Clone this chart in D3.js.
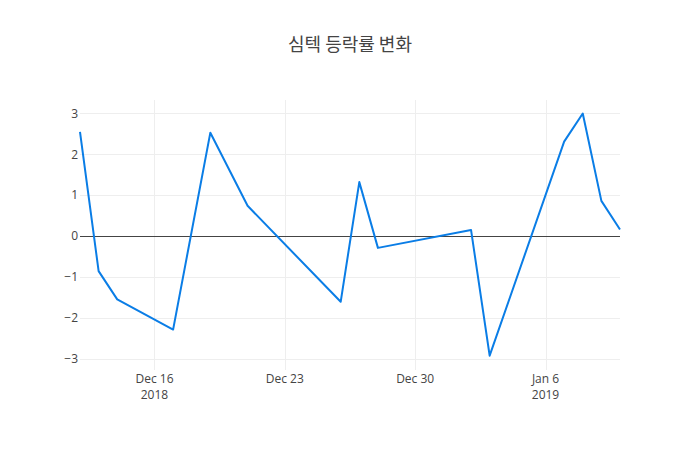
<!DOCTYPE html>
<html>
<head>
<meta charset="utf-8">
<script src="https://cdn.jsdelivr.net/npm/d3@7"></script>
<style>
  html, body { margin: 0; padding: 0; background: #fff; }
  svg { display: block; font-family: "Open Sans", "Noto Sans CJK KR", sans-serif; }
</style>
</head>
<body>
<svg id="chart" width="700" height="450"></svg>
<script>
const title = "심텍 등락률 변화";
const dates = ["2018-12-12","2018-12-13","2018-12-14","2018-12-17","2018-12-19","2018-12-21",
               "2018-12-26","2018-12-27","2018-12-28","2019-01-02","2019-01-03","2019-01-07",
               "2019-01-08","2019-01-09","2019-01-10"];
const changes = [2.55, -0.86, -1.55, -2.29, 2.53, 0.74, -1.61, 1.32, -0.29, 0.15, -2.93, 2.31, 3.0, 0.86, 0.16];
const yTicks = [-3, -2, -1, 0, 1, 2, 3];
const xTicks = ["2018-12-16", "2018-12-23", "2018-12-30", "2019-01-06"];
const xTickLabels = [["Dec 16", "2018"], ["Dec 23"], ["Dec 30"], ["Jan 6", "2019"]];

const W = 700, H = 450, m = {l: 80, r: 80, t: 100, b: 80};
const parse = d3.utcParse("%Y-%m-%d");
const data = dates.map((d, i) => ({date: parse(d), v: changes[i]}));

const svg = d3.select("#chart");
const x = d3.scaleUtc().domain(d3.extent(data, d => d.date)).range([m.l, W - m.r]);
const y = d3.scaleLinear().domain([-3.28, 3.33]).range([H - m.b, m.t]);
const crisp = v => Math.round(v) + 0.5;

// grid
svg.append("g").selectAll("line").data(xTicks).join("line")
  .attr("x1", d => crisp(x(parse(d)))).attr("x2", d => crisp(x(parse(d))))
  .attr("y1", m.t).attr("y2", H - m.b)
  .attr("stroke", "#eee").attr("stroke-width", 1);
svg.append("g").selectAll("line").data(yTicks.filter(t => t !== 0)).join("line")
  .attr("x1", m.l).attr("x2", W - m.r)
  .attr("y1", d => crisp(y(d))).attr("y2", d => crisp(y(d)))
  .attr("stroke", "#eee").attr("stroke-width", 1);

// zero line
svg.append("line")
  .attr("x1", m.l).attr("x2", W - m.r)
  .attr("y1", crisp(y(0))).attr("y2", crisp(y(0)))
  .attr("stroke", "#444").attr("stroke-width", 1);

// line
svg.append("path").datum(data)
  .attr("fill", "none").attr("stroke", "#0a7de6").attr("stroke-width", 2)
  .attr("stroke-linejoin", "round")
  .attr("d", d3.line().x(d => x(d.date)).y(d => y(d.v)));

// y tick labels
svg.append("g").selectAll("text").data(yTicks).join("text")
  .attr("x", m.l - 2).attr("y", d => y(d)).attr("dy", "0.35em")
  .attr("text-anchor", "end").attr("fill", "#444").attr("font-size", 12)
  .text(d => d < 0 ? "\u2212" + Math.abs(d) : d);

// x tick labels
const xg = svg.append("g").selectAll("text").data(xTicks).join("text")
  .attr("text-anchor", "middle").attr("fill", "#444").attr("font-size", 12)
  .attr("x", d => x(parse(d))).attr("y", 383);
xg.each(function(d, i) {
  const t = d3.select(this);
  xTickLabels[i].forEach((s, j) => {
    t.append("tspan").attr("x", x(parse(d))).attr("dy", j === 0 ? 0 : 16).text(s);
  });
});

// title
svg.append("text").attr("x", W / 2).attr("y", 51)
  .attr("text-anchor", "middle").attr("fill", "#444").attr("font-size", 18)
  .attr("font-family", "'Noto Sans CJK KR', 'Open Sans', sans-serif")
  .text(title);
</script>
</body>
</html>
